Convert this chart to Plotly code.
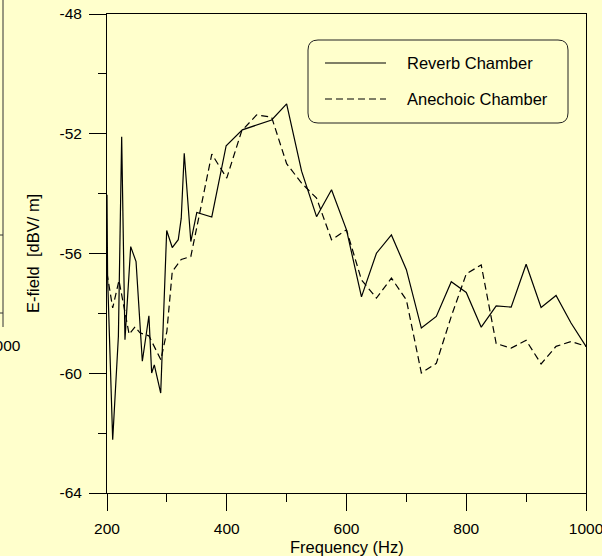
import plotly.graph_objects as go

# ---------------- data ----------------
freq_reverb = [200, 201, 209.5, 219, 224.5, 230, 239.6, 248.5, 259, 270, 274.6, 279,
               289.7, 299.7, 309, 319, 324, 329, 340, 350, 375, 399, 426, 475, 500,
               525, 550, 575, 600, 625, 650, 675, 700, 725, 750, 775, 800, 825, 850,
               875, 900, 925, 950, 975, 1000]
efield_reverb = [-54.04, -56.8, -62.22, -58.77, -52.1, -58.88, -55.77, -56.27, -59.6,
                 -58.08, -59.99, -59.72, -60.66, -55.23, -55.8, -55.54, -54.82, -52.65,
                 -55.6, -54.63, -54.78, -52.4, -51.87, -51.54, -51.0, -53.25, -54.77,
                 -53.87, -55.21, -57.45, -55.99, -55.38, -56.54, -58.49, -58.1, -56.94,
                 -57.3, -58.46, -57.75, -57.79, -56.36, -57.8, -57.4, -58.32, -59.1]

freq_anechoic = [200, 209.5, 220, 237, 247, 255, 270, 290, 300, 309, 324, 340, 375, 400,
                 425, 450, 475, 500, 525, 550, 575, 600, 625, 650, 675, 700, 725, 750,
                 775, 800, 825, 850, 875, 900, 925, 950, 975, 1000]
efield_anechoic = [-56.65, -57.82, -56.9, -58.7, -58.45, -58.65, -58.75, -59.55, -58.6,
                   -56.6, -56.2, -56.1, -52.68, -53.48, -51.9, -51.37, -51.45, -53.0,
                   -53.65, -54.15, -55.54, -55.21, -56.88, -57.49, -56.82, -57.55, -59.99,
                   -59.67, -58.1, -56.68, -56.38, -59.01, -59.16, -58.9, -59.69, -59.1,
                   -58.94, -59.1]

series_names = ["Reverb Chamber", "Anechoic Chamber"]
x_ticks = [200, 400, 600, 800, 1000]
y_ticks = [-64, -60, -56, -52, -48]
x_title = "Frequency (Hz)"
y_title = "E-field\u00a0 [dBV/ m]"

# ---------------- layout geometry (pixels) ----------------
FIG_W, FIG_H = 602, 556
PL, PR, PT, PB = 107, 586, 14, 493
PW, PH = PR - PL, PB - PT
BG = "#FFFFCC"
FONT = "Arial, Liberation Sans, sans-serif"


def px2x(px):
    return (px - PL) / PW


def py2y(py):
    return (PB - py) / PH


fig = go.Figure()
fig.add_trace(go.Scatter(x=freq_reverb, y=efield_reverb, mode="lines",
                         name=series_names[0], showlegend=False,
                         line=dict(color="black", width=1.2)))
fig.add_trace(go.Scatter(x=freq_anechoic, y=efield_anechoic, mode="lines",
                         name=series_names[1], showlegend=False,
                         line=dict(color="black", width=1.2, dash="7px,4px")))

# ---------------- custom legend with rounded box ----------------
lx0, lx1, ly0, ly1 = px2x(308), px2x(568), py2y(123), py2y(40)
r = 10 / PW
path = (f"M {lx0 + r},{ly1} L {lx1 - r},{ly1} Q {lx1},{ly1} {lx1},{ly1 - r} "
        f"L {lx1},{ly0 + r} Q {lx1},{ly0} {lx1 - r},{ly0} "
        f"L {lx0 + r},{ly0} Q {lx0},{ly0} {lx0},{ly0 + r} "
        f"L {lx0},{ly1 - r} Q {lx0},{ly1} {lx0 + r},{ly1} Z")
shapes = [dict(type="path", xref="paper", yref="paper", path=path,
               line=dict(color="#222222", width=1), fillcolor="rgba(0,0,0,0)")]
legend_rows = [(63, None), (99, "7px,4px")]
annotations = []
for (row_y, dash), name in zip(legend_rows, series_names):
    shapes.append(dict(type="line", xref="paper", yref="paper",
                       x0=px2x(325), x1=px2x(386), y0=py2y(row_y), y1=py2y(row_y),
                       line=dict(color="black", width=1.2, dash=dash if dash else "solid")))
    annotations.append(dict(xref="paper", yref="paper", x=px2x(405), y=py2y(row_y),
                            xanchor="left", yanchor="middle", text=name, showarrow=False,
                            font=dict(family=FONT, size=16.5, color="black")))

# axis titles
annotations.append(dict(xref="paper", yref="paper", x=px2x(347), y=py2y(547),
                        xanchor="center", yanchor="middle", text=x_title, showarrow=False,
                        font=dict(family=FONT, size=16.5, color="black")))
annotations.append(dict(xref="paper", yref="paper", x=px2x(33), y=py2y(254),
                        xanchor="center", yanchor="middle", text=y_title, showarrow=False,
                        textangle=-90,
                        font=dict(family=FONT, size=16.5, color="black")))

# remnants of the neighbouring panel at the far left edge
shapes.append(dict(type="line", xref="paper", yref="paper",
                   x0=px2x(3), x1=px2x(3), y0=py2y(0), y1=py2y(327),
                   line=dict(color="#333333", width=1)))
for yy in (235, 313):
    shapes.append(dict(type="line", xref="paper", yref="paper",
                       x0=px2x(-2), x1=px2x(3), y0=py2y(yy), y1=py2y(yy),
                       line=dict(color="#333333", width=1)))
annotations.append(dict(xref="paper", yref="paper", x=px2x(3), y=py2y(345),
                        xanchor="center", yanchor="middle", text="1000", showarrow=False,
                        font=dict(family=FONT, size=15.5, color="black")))

axis_common = dict(showline=True, linecolor="black", linewidth=1, mirror=True,
                   ticks="outside", ticklen=17, tickwidth=1, tickcolor="black",
                   showgrid=False, zeroline=False, automargin=False,
                   ticklabeloverflow="allow",
                   tickfont=dict(family=FONT, size=15.5, color="black"))

fig.update_layout(
    template="none",
    width=FIG_W, height=FIG_H,
    margin=dict(l=PL, r=FIG_W - PR, t=PT, b=FIG_H - PB, pad=0, autoexpand=False),
    paper_bgcolor=BG, plot_bgcolor=BG,
    showlegend=False,
    xaxis=dict(range=[200, 1000], tickmode="array", tickvals=x_ticks,
               ticktext=[str(v) for v in x_ticks],
               minor=dict(ticks="outside", ticklen=8, tickwidth=1, tickcolor="black",
                          tickmode="linear", tick0=200, dtick=100, showgrid=False),
               ticklabelstandoff=4,
               **axis_common),
    yaxis=dict(range=[-64, -48], tickmode="array", tickvals=y_ticks,
               ticktext=[str(v) for v in y_ticks],
               minor=dict(ticks="outside", ticklen=8, tickwidth=1, tickcolor="black",
                          tickmode="linear", tick0=-64, dtick=2, showgrid=False),
               ticklabelstandoff=4,
               **axis_common),
    shapes=shapes,
    annotations=annotations,
)

fig.write_html("out.html")
